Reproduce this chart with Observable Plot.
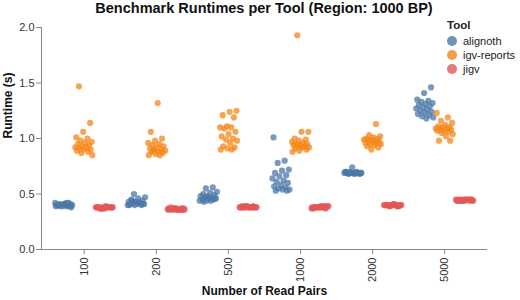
<!DOCTYPE html>
<html>
<head>
<meta charset="utf-8">
<script src="https://cdn.jsdelivr.net/npm/d3@7"></script>
<script src="https://cdn.jsdelivr.net/npm/@observablehq/plot@0.6"></script>
<style>
  body { margin: 0; background: #fff; font-family: "Liberation Sans", Arial, sans-serif; }
  #wrap { position: relative; width: 520px; height: 300px; }
  #title { height: 20px; line-height: 17px; padding-left: 41px; width: 446px; text-align: center;
           font-weight: bold; font-size: 14.5px; color: #111; white-space: nowrap; }
  #legend { position: absolute; left: 447px; top: 19px; font-size: 11px; color: #222; }
  #legend .lt { font-weight: bold; font-size: 11.5px; margin-bottom: 3px; }
  #legend .it { display: flex; align-items: center; height: 14px; }
  #legend .sw { width: 10px; height: 10px; border-radius: 50%; margin-right: 6px; opacity: 0.8; }
</style>
</head>
<body>
<div id="wrap">
  <div id="title">Benchmark Runtimes per Tool (Region: 1000 BP)</div>
  <div id="chart"></div>
  <div id="legend"></div>
</div>
<script>
const categories = ["100", "200", "500", "1000", "2000", "5000"];
const tools = ["alignoth", "igv-reports", "jigv"];
const colors = ["#4c78a8", "#f58518", "#e45756"];

// runtimes (s), one list per read-pair category
const alignoth = [
  [0.42,0.42,0.41,0.41,0.41,0.40,0.40,0.40,0.40,0.40,0.40,0.39,0.39,0.39,0.39,0.39,0.38,0.41,0.40,0.42],
  [0.50,0.47,0.46,0.45,0.44,0.43,0.43,0.42,0.42,0.41,0.41,0.41,0.40,0.40,0.40,0.42,0.44,0.41,0.43,0.40],
  [0.56,0.55,0.52,0.51,0.50,0.49,0.48,0.48,0.47,0.47,0.46,0.46,0.45,0.45,0.44,0.44,0.44,0.43,0.46,0.47],
  [1.01,0.80,0.78,0.72,0.71,0.69,0.67,0.66,0.64,0.62,0.61,0.60,0.58,0.57,0.56,0.55,0.54,0.54,0.53,0.53],
  [0.74,0.70,0.70,0.70,0.69,0.69,0.69,0.69,0.69,0.69,0.69,0.68,0.68,0.69,0.70,0.69,0.69,0.69,0.68,0.69],
  [1.46,1.41,1.35,1.34,1.33,1.32,1.31,1.30,1.29,1.28,1.27,1.26,1.25,1.24,1.23,1.22,1.21,1.20,1.19,1.18]
];
const igvReports = [
  [1.47,1.14,1.06,1.01,1.00,0.98,0.97,0.96,0.95,0.94,0.93,0.92,0.92,0.91,0.90,0.90,0.89,0.88,0.87,0.85],
  [1.32,1.06,1.00,0.98,0.96,0.95,0.94,0.93,0.92,0.91,0.90,0.90,0.89,0.88,0.88,0.87,0.86,0.85,0.85,0.89],
  [1.25,1.24,1.21,1.19,1.11,1.10,1.10,1.09,1.06,1.04,1.02,1.00,0.99,0.98,0.96,0.93,0.92,0.91,0.90,0.90],
  [1.93,1.06,1.06,1.00,0.99,0.98,0.97,0.96,0.95,0.95,0.94,0.94,0.93,0.93,0.92,0.92,0.91,0.90,0.89,0.88],
  [1.13,1.03,1.02,1.01,1.00,1.00,0.99,0.99,0.98,0.98,0.97,0.97,0.96,0.96,0.95,0.95,0.94,0.93,0.92,0.90],
  [1.23,1.19,1.16,1.14,1.12,1.11,1.10,1.10,1.09,1.09,1.08,1.08,1.07,1.07,1.06,1.05,1.04,1.02,0.98,0.98]
];
const jigv = [
  [0.38,0.38,0.38,0.37,0.38,0.37,0.38,0.38,0.37,0.38,0.39,0.38,0.38,0.37,0.38,0.38,0.37,0.38,0.38,0.38],
  [0.37,0.37,0.36,0.36,0.36,0.36,0.37,0.36,0.36,0.37,0.36,0.36,0.38,0.36,0.36,0.37,0.36,0.36,0.37,0.36],
  [0.39,0.39,0.38,0.38,0.38,0.38,0.38,0.38,0.38,0.38,0.39,0.38,0.38,0.38,0.38,0.39,0.38,0.38,0.38,0.38],
  [0.39,0.38,0.38,0.38,0.37,0.38,0.38,0.39,0.38,0.37,0.38,0.38,0.39,0.38,0.38,0.37,0.38,0.38,0.39,0.38],
  [0.40,0.40,0.40,0.39,0.39,0.40,0.41,0.40,0.39,0.40,0.40,0.40,0.39,0.40,0.41,0.40,0.39,0.40,0.40,0.40],
  [0.45,0.45,0.44,0.44,0.45,0.44,0.44,0.45,0.44,0.45,0.45,0.44,0.45,0.44,0.44,0.45,0.45,0.44,0.44,0.45]
];
const yTicks = [0, 0.5, 1.0, 1.5, 2.0];

const series = [alignoth, igvReports, jigv];
const toolOffset = [-0.277, 0, 0.277];
const jitterWidth = 0.25;
const rows = [];
series.forEach((byCat, t) => {
  byCat.forEach((vals, c) => {
    vals.forEach((v, i) => {
      const j = ((i * 0.6180339 + c * 0.37 + t * 0.21) % 1) - 0.5; // deterministic jitter
      rows.push({tool: tools[t], cat: c, pos: c + toolOffset[t] + j * jitterWidth, runtime: v});
    });
  });
});

const xMin = -0.592, xMax = 5.594;
const chart = Plot.plot({
  width: 520, height: 280,
  marginLeft: 41, marginRight: 33, marginTop: 7, marginBottom: 51,
  style: {fontFamily: '"Liberation Sans", Arial, sans-serif', fontSize: "11px", color: "#333", background: "#fff"},
  x: {domain: [xMin, xMax]},
  y: {domain: [0, 2]},
  color: {domain: tools, range: colors},
  marks: [
    Plot.axisY({ticks: yTicks, tickFormat: d3.format(".1f"), tickSize: 5, tickPadding: 2, stroke: "#888", fill: "#333", label: null}),
    Plot.axisX({ticks: d3.range(categories.length), tickFormat: i => categories[i], tickRotate: -90, tickSize: 5, tickPadding: 3, stroke: "#888", fill: "#333", label: null}),
    Plot.ruleY([0], {stroke: "#888"}),
    Plot.ruleX([xMin], {stroke: "#888"}),
    Plot.dot(rows, {x: "pos", y: "runtime", fill: "tool", r: 3.1, fillOpacity: 0.75, stroke: "none"}),
    Plot.text(["Number of Read Pairs"], {text: d => d, frameAnchor: "bottom", dy: 45, fontWeight: "bold", fontSize: 12, fill: "#111"}),
    Plot.text(["Runtime (s)"], {text: d => d, frameAnchor: "left", dx: -33, rotate: -90, fontWeight: "bold", fontSize: 12, fill: "#111"})
  ]
});
document.getElementById("chart").appendChild(chart);

const legend = document.getElementById("legend");
legend.innerHTML = '<div class="lt">Tool</div>' + tools.map((t, i) =>
  `<div class="it"><span class="sw" style="background:${colors[i]}"></span><span>${t}</span></div>`).join("");
</script>
</body>
</html>
